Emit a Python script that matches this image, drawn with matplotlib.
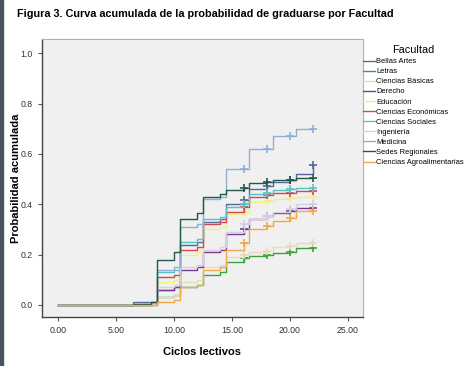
import numpy as np
import matplotlib.pyplot as plt
from matplotlib.lines import Line2D
from matplotlib.patches import Rectangle

plt.rcParams['font.family'] = ['Liberation Sans', 'DejaVu Sans']

# step times (level holds from each time onward)
times = [6.5, 8.0, 8.5, 10.0, 10.5, 12.0, 12.5, 14.0, 14.5, 16.0, 16.5, 18.0, 18.5, 20.0, 20.5, 22.0]
censor_times = [16.0, 18.0, 20.0, 22.0]

facultades = ['Bellas Artes', 'Letras', 'Ciencias Básicas', 'Derecho', 'Educación',
              'Ciencias Económicas', 'Ciencias Sociales', 'Ingeniería', 'Medicina',
              'Sedes Regionales', 'Ciencias Agroalimentarias']

bellas_artes = [0.01, 0.01, 0.06, 0.07, 0.24, 0.25, 0.33, 0.34, 0.40, 0.415, 0.46, 0.472, 0.49, 0.495, 0.52, 0.555]
letras = [0, 0, 0.03, 0.04, 0.07, 0.08, 0.12, 0.13, 0.17, 0.188, 0.195, 0.20, 0.205, 0.21, 0.225, 0.225]
basicas = [0, 0, 0.03, 0.04, 0.09, 0.10, 0.15, 0.16, 0.19, 0.20, 0.21, 0.214, 0.23, 0.234, 0.247, 0.247]
derecho = [0, 0.005, 0.06, 0.07, 0.14, 0.15, 0.21, 0.22, 0.28, 0.30, 0.34, 0.353, 0.365, 0.373, 0.386, 0.386]
educacion = [0, 0, 0.09, 0.10, 0.20, 0.21, 0.30, 0.31, 0.36, 0.37, 0.41, 0.413, 0.42, 0.426, 0.43, 0.43]
economicas = [0, 0.005, 0.11, 0.12, 0.22, 0.23, 0.32, 0.33, 0.37, 0.39, 0.43, 0.435, 0.445, 0.446, 0.452, 0.452]
sociales = [0, 0.01, 0.13, 0.14, 0.25, 0.26, 0.34, 0.35, 0.39, 0.40, 0.44, 0.445, 0.458, 0.46, 0.466, 0.466]
ingenieria = [0, 0.005, 0.07, 0.08, 0.15, 0.16, 0.22, 0.23, 0.29, 0.32, 0.34, 0.353, 0.37, 0.38, 0.40, 0.40]
medicina = [0.005, 0.01, 0.14, 0.15, 0.31, 0.32, 0.42, 0.43, 0.54, 0.54, 0.62, 0.62, 0.67, 0.67, 0.70, 0.70]
sedes = [0.005, 0.01, 0.18, 0.21, 0.34, 0.365, 0.43, 0.44, 0.456, 0.466, 0.485, 0.49, 0.496, 0.496, 0.505, 0.505]
agro = [0, 0, 0.01, 0.02, 0.07, 0.08, 0.14, 0.15, 0.22, 0.247, 0.30, 0.313, 0.335, 0.346, 0.373, 0.373]

series = [bellas_artes, letras, basicas, derecho, educacion, economicas,
          sociales, ingenieria, medicina, sedes, agro]
colors = ['#56699f', '#3da33d', '#e6dcb8', '#7a3b8c', '#eef080', '#d2484f',
          '#56c3c7', '#d6d0e4', '#8eaed5', '#24584a', '#f2a84a']

fig = plt.figure(figsize=(4.73, 3.66), dpi=100)
# dark border strip on the left edge, as in the scanned figure
fig.patches.append(Rectangle((0, 0), 0.006, 1, transform=fig.transFigure,
                             color='#4a5262', zorder=0))
ax = fig.add_axes([0.0888, 0.134, 0.6786, 0.7594])
ax.set_facecolor('#f0f0f0')

t = np.array([0.0] + times)
for vals, col, name in zip(series, colors, facultades):
    y = np.array([0.0] + vals)
    ax.step(t, y, where='post', color=col, lw=1.0, label=name)
    cy = [y[np.searchsorted(t, c, side='right') - 1] for c in censor_times]
    ax.plot(censor_times, cy, ls='none', marker='+', ms=6, mew=1.2, color=col)

ax.set_xlim(-1.38, 26.3)
ax.set_ylim(-0.048, 1.057)
ax.set_xticks([0, 5, 10, 15, 20, 25])
ax.set_xticklabels(['%.2f' % v for v in [0, 5, 10, 15, 20, 25]])
ax.set_yticks([0, 0.2, 0.4, 0.6, 0.8, 1.0])
ax.set_yticklabels(['%.1f' % v for v in [0, 0.2, 0.4, 0.6, 0.8, 1.0]])
ax.tick_params(labelsize=6.3, colors='#555555', length=3, width=0.8, labelcolor='#333333')
for s in ['left', 'bottom']:
    ax.spines[s].set_color('#444444')
    ax.spines[s].set_linewidth(1.0)
for s in ['top', 'right']:
    ax.spines[s].set_color('#b0b0b0')
    ax.spines[s].set_linewidth(0.8)

ax.set_xlabel('Ciclos lectivos', fontsize=8, fontweight='bold', labelpad=9)
ax.set_ylabel('Probabilidad acumulada', fontsize=8, fontweight='bold', labelpad=0)

fig.text(0.036, 0.975, 'Figura 3. Curva acumulada de la probabilidad de graduarse por Facultad',
         fontsize=7.8, fontweight='bold', va='top', ha='left')

handles = [Line2D([0], [0], color=c, lw=1.0) for c in colors]
leg = fig.legend(handles, facultades, title='Facultad', loc='upper left',
                 bbox_to_anchor=(0.762, 0.885), frameon=False, fontsize=5.4,
                 title_fontsize=7.8, handlelength=1.5, handletextpad=0.2,
                 labelspacing=0.38, borderaxespad=0)
leg._legend_box.align = 'center'

fig.savefig('out.png', dpi=100)
